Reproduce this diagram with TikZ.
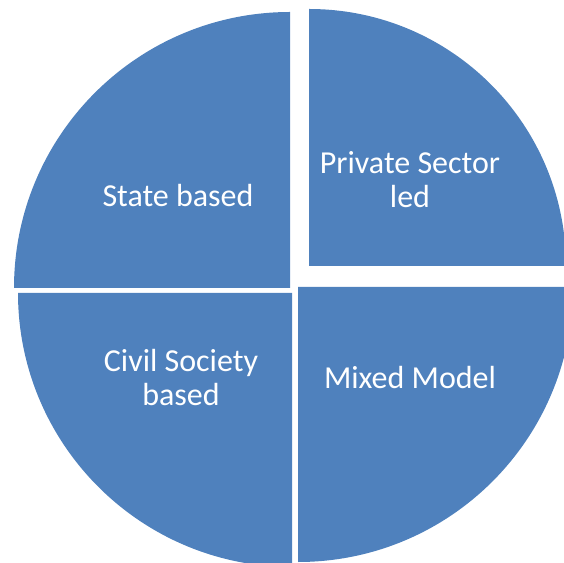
\documentclass[tikz,border=0pt]{standalone}
\usepackage{fontspec}
\setmainfont{Carlito}
\definecolor{pieblue}{HTML}{4F81BD}
\begin{document}
\begin{tikzpicture}[x=1pt,y=1pt,
  slice/.style={fill=pieblue,draw=none},
  lbl/.style={text=white,font=\fontsize{32}{34}\selectfont,align=center,inner sep=0pt}]
\useasboundingbox (0,0) rectangle (564,562);
\begin{scope}
\clip (0,0) rectangle (564,562);
\path[slice] (290,274) -- ++(-276,0) arc[start angle=180,end angle=90,radius=276] -- cycle;
\path[slice] (309,296) -- ++(257,0) arc[start angle=0,end angle=90,radius=257] -- cycle;
\path[slice] (292,269) -- ++(-274,0) arc[start angle=180,end angle=270,radius=274] -- cycle;
\path[slice] (298,275) -- ++(275,0) arc[start angle=0,end angle=-90,radius=275] -- cycle;
\end{scope}
\node[lbl,anchor=base] (state) at (178,355) {State based};
\node[lbl,anchor=base] (private) at (410,354) {Private Sector\\led};
\node[lbl,anchor=base] (civil) at (181,156) {Civil Society\\based};
\node[lbl,anchor=base] (mixed) at (410,173) {Mixed Model};
\end{tikzpicture}
\end{document}
